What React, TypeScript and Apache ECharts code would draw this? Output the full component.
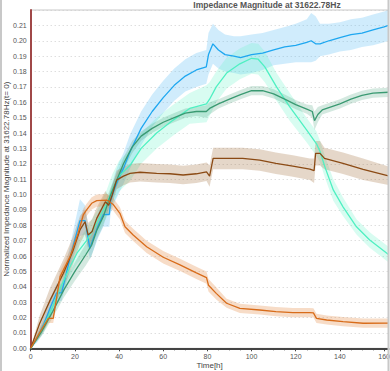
import React, { useEffect, useRef } from "react";
import * as echarts from "echarts";

const chartTitle = "Impedance Magnitude at 31622.78Hz";
const yName = "Normalized Impedance Magnitude at 31622.78Hz(t= 0)";
const xName = "Time[h]";

// Blue
const blueT = [0, 3, 6, 9, 11.7, 14, 18, 22.3, 24.6, 26.8, 28.5, 30.6, 32.9, 35.6, 36.2, 38, 40, 42, 45, 50, 55, 60, 65, 70, 75, 79.5, 80.5, 82.5, 85, 88, 92, 95, 100, 105, 110, 115, 120, 125, 127, 129, 131, 135, 140, 145, 150, 155, 160, 162];
const blueMean = [0, 0.007, 0.016, 0.027, 0.036, 0.036, 0.06, 0.083, 0.083, 0.065, 0.072, 0.08, 0.087, 0.087, 0.096, 0.104, 0.111, 0.117, 0.128, 0.143, 0.154, 0.163, 0.171, 0.177, 0.181, 0.183, 0.191, 0.198, 0.194, 0.191, 0.19, 0.189, 0.191, 0.192, 0.194, 0.196, 0.197, 0.199, 0.2, 0.198, 0.198, 0.2, 0.202, 0.204, 0.205, 0.207, 0.209, 0.21];
const blueLow = [0, 0.004, 0.011, 0.021, 0.03, 0.031, 0.053, 0.073, 0.074, 0.058, 0.064, 0.072, 0.079, 0.079, 0.088, 0.095, 0.101, 0.107, 0.117, 0.132, 0.144, 0.153, 0.161, 0.167, 0.17, 0.172, 0.178, 0.185, 0.182, 0.18, 0.179, 0.178, 0.179, 0.181, 0.184, 0.185, 0.186, 0.186, 0.186, 0.187, 0.19, 0.191, 0.193, 0.194, 0.196, 0.197, 0.199, 0.2];
const blueHigh = [0, 0.01, 0.021, 0.033, 0.042, 0.042, 0.068, 0.097, 0.093, 0.073, 0.08, 0.088, 0.095, 0.095, 0.104, 0.113, 0.121, 0.127, 0.139, 0.154, 0.165, 0.174, 0.182, 0.188, 0.192, 0.194, 0.205, 0.211, 0.207, 0.204, 0.203, 0.203, 0.204, 0.205, 0.207, 0.209, 0.211, 0.214, 0.218, 0.216, 0.211, 0.211, 0.212, 0.214, 0.215, 0.217, 0.219, 0.22];

// Dark green
const greenT = [0, 5, 10, 15, 20, 25, 27.6, 30, 33, 36, 40, 42, 46, 50, 55, 60, 65, 70, 75, 79.5, 81, 85, 90, 95, 100, 105, 110, 115, 120, 125, 127.5, 128.5, 130, 132, 135, 140, 145, 150, 155, 162];
const greenMean = [0, 0.011, 0.024, 0.038, 0.05, 0.061, 0.067, 0.077, 0.086, 0.099, 0.113, 0.12, 0.131, 0.138, 0.143, 0.147, 0.15, 0.153, 0.154, 0.154, 0.156, 0.159, 0.162, 0.165, 0.1675, 0.1675, 0.1655, 0.162, 0.1585, 0.1555, 0.154, 0.148, 0.152, 0.155, 0.1565, 0.159, 0.162, 0.1645, 0.166, 0.1665];
const greenSpread = [0, 0.003, 0.004, 0.005, 0.006, 0.007, 0.007, 0.006, 0.006, 0.005, 0.004, 0.004, 0.004, 0.003, 0.003, 0.003, 0.003, 0.003, 0.003, 0.004, 0.004, 0.003, 0.003, 0.003, 0.003, 0.003, 0.003, 0.003, 0.003, 0.003, 0.004, 0.006, 0.005, 0.003, 0.003, 0.003, 0.003, 0.003, 0.003, 0.003];

// Mint
const mintT = [0, 5, 8.7, 13, 17.8, 21, 25.3, 29.9, 34.4, 36.9, 40, 45, 50, 57, 64.5, 72, 79.6, 81, 84, 88.7, 94.7, 100, 103, 106, 111.3, 117.3, 124.9, 129.4, 131, 133.2, 137, 141.4, 147.5, 153.5, 162];
const mintMean = [0, 0.012, 0.0228, 0.038, 0.053, 0.062, 0.07, 0.0813, 0.094, 0.103, 0.112, 0.119, 0.13, 0.14, 0.1484, 0.156, 0.159, 0.162, 0.17, 0.179, 0.185, 0.1886, 0.188, 0.183, 0.17, 0.157, 0.142, 0.133, 0.128, 0.118, 0.103, 0.092, 0.079, 0.0704, 0.061];
const mintSpread = [0, 0.003, 0.004, 0.005, 0.006, 0.007, 0.008, 0.008, 0.009, 0.01, 0.01, 0.01, 0.01, 0.01, 0.01, 0.01, 0.012, 0.011, 0.01, 0.01, 0.01, 0.01, 0.01, 0.01, 0.009, 0.009, 0.008, 0.008, 0.007, 0.007, 0.007, 0.006, 0.005, 0.005, 0.005];

// Brown
const brownT = [0, 4, 8.7, 14.8, 19, 22.3, 24.6, 26, 27.8, 29.9, 33.8, 35.3, 36.9, 38.9, 42, 45, 49.5, 57, 63, 69, 75, 79.6, 81, 82.6, 88, 96, 103.7, 111, 118.7, 126.4, 128.3, 129, 131, 133, 141.4, 150.5, 162];
const brownMean = [0, 0.016, 0.031, 0.0488, 0.063, 0.077, 0.0823, 0.0737, 0.076, 0.0845, 0.0953, 0.093, 0.0997, 0.1094, 0.112, 0.1138, 0.1145, 0.1138, 0.1135, 0.1127, 0.1135, 0.1148, 0.112, 0.1235, 0.1235, 0.1235, 0.1224, 0.1203, 0.1185, 0.1165, 0.1155, 0.1268, 0.1268, 0.1235, 0.1203, 0.1164, 0.1122];
const brownSpread = [0, 0.005, 0.008, 0.009, 0.009, 0.009, 0.008, 0.008, 0.008, 0.007, 0.007, 0.006, 0.006, 0.006, 0.006, 0.006, 0.006, 0.006, 0.006, 0.006, 0.006, 0.006, 0.007, 0.007, 0.007, 0.007, 0.007, 0.007, 0.007, 0.007, 0.008, 0.008, 0.008, 0.007, 0.007, 0.007, 0.006];

// Orange
const orangeT = [0, 4, 8, 10.2, 13.3, 17.8, 21.5, 23.8, 25.3, 27.6, 29.9, 34.4, 37.4, 40.4, 42.7, 46.4, 52.5, 60, 67.6, 75, 79.6, 80.5, 84, 88.7, 94.7, 103.7, 111, 118.7, 126.4, 128, 129.4, 134, 141.4, 150.5, 162];
const orangeMean = [0, 0.01, 0.0195, 0.0195, 0.0466, 0.0596, 0.0748, 0.0867, 0.09, 0.0943, 0.096, 0.0964, 0.0935, 0.0878, 0.079, 0.0737, 0.066, 0.0592, 0.0542, 0.049, 0.046, 0.041, 0.0357, 0.0293, 0.026, 0.0249, 0.0238, 0.0232, 0.0232, 0.023, 0.0195, 0.0184, 0.0173, 0.0163, 0.0164];
const orangeSpread = [0, 0.003, 0.003, 0.003, 0.004, 0.004, 0.004, 0.004, 0.004, 0.004, 0.004, 0.004, 0.004, 0.004, 0.004, 0.004, 0.004, 0.004, 0.004, 0.004, 0.004, 0.004, 0.004, 0.003, 0.003, 0.003, 0.003, 0.003, 0.003, 0.003, 0.003, 0.003, 0.003, 0.003, 0.003];

const FONT = '"Liberation Sans", Arial, sans-serif';

function band(t: number[], lo: number[], hi: number[], color: string): any {
  return {
    type: "custom",
    silent: true,
    clip: true,
    z: 1,
    data: t.map((x, i) => [x, lo[i], hi[i]]),
    encode: { x: 0, y: [1, 2] },
    renderItem: (params: any, api: any) => {
      if (params.dataIndexInside !== 0) return { type: "group", children: [] };
      const n = params.dataInsideLength;
      const top: number[][] = [];
      const bot: number[][] = [];
      for (let i = 0; i < n; i++) {
        const x = api.value(0, i);
        top.push(api.coord([x, api.value(2, i)]));
        bot.push(api.coord([x, api.value(1, i)]));
      }
      return {
        type: "polygon",
        shape: { points: top.concat(bot.reverse()) },
        style: { fill: color },
      };
    },
  };
}

function line(t: number[], v: number[], color: string): any {
  return {
    type: "line",
    data: t.map((x, i) => [x, v[i]]),
    showSymbol: false,
    symbol: "none",
    z: 3,
    lineStyle: { color, width: 1.3 },
    itemStyle: { color },
  };
}

export default function App() {
  const ref = useRef<HTMLDivElement>(null);
  useEffect(() => {
    document.body.style.margin = "0";
    const chart = echarts.init(ref.current!, null, { renderer: "svg" });
    const lowOf = (m: number[], s: number[]) => m.map((v, i) => v - s[i]);
    const highOf = (m: number[], s: number[]) => m.map((v, i) => v + s[i]);
    chart.setOption({
      animation: false,
      grid: {
        left: 30.7,
        right: 1.5,
        top: 10,
        bottom: 22.7,
        containLabel: false,
        outerBoundsMode: "none",
        show: true,
        borderColor: "#c8c8c8",
        borderWidth: 1,
      },
      graphic: [
        {
          type: "text",
          x: 267,
          y: 5,
          style: {
            text: chartTitle,
            align: "center",
            verticalAlign: "middle",
            fontSize: 8.5,
            fontWeight: "bold",
            fontFamily: FONT,
            fill: "#555",
          },
        },
        {
          type: "rect",
          z: 100,
          shape: { x: 1, y: -5, width: 387.5, height: 390 },
          style: { fill: "none", stroke: "#c8c8c8", lineWidth: 2 },
          silent: true,
        },
      ],
      xAxis: {
        type: "value",
        min: 0,
        max: 162,
        interval: 20,
        name: xName,
        nameLocation: "middle",
        nameGap: 13.5,
        nameMoveOverlap: false,
        nameTextStyle: { fontSize: 8, color: "#444", fontFamily: FONT },
        axisLine: { show: true, lineStyle: { color: "#444", width: 2 } },
        axisTick: { show: true, length: 3, lineStyle: { color: "#444" } },
        minorTick: { show: true, splitNumber: 4, length: 2, lineStyle: { color: "#444" } },
        splitLine: { show: false },
        axisLabel: {
          showMaxLabel: false,
          fontSize: 7,
          color: "#555",
          fontFamily: FONT,
          margin: 5,
        },
      },
      yAxis: {
        type: "value",
        min: 0,
        max: 0.22,
        interval: 0.01,
        name: yName,
        nameLocation: "middle",
        nameRotate: 90,
        nameGap: 20,
        nameMoveOverlap: false,
        nameTextStyle: { fontSize: 8, color: "#444", fontFamily: FONT },
        axisLine: { show: true, onZero: false, lineStyle: { color: "#a04848", width: 2 } },
        axisTick: { show: false },
        splitLine: { show: true, lineStyle: { color: "#cfcfcf", type: [1, 3], width: 1 } },
        axisLabel: {
          showMaxLabel: false,
          fontSize: 7,
          color: "#555",
          fontFamily: FONT,
          margin: 4,
          formatter: (v: number) => v.toFixed(2),
        },
      },
      series: [
        band(blueT, blueLow, blueHigh, "rgba(110,195,245,0.32)"),
        band(mintT, lowOf(mintMean, mintSpread), highOf(mintMean, mintSpread), "rgba(100,245,200,0.25)"),
        band(greenT, lowOf(greenMean, greenSpread), highOf(greenMean, greenSpread), "rgba(58,154,114,0.22)"),
        band(brownT, lowOf(brownMean, brownSpread), highOf(brownMean, brownSpread), "rgba(160,110,60,0.28)"),
        band(orangeT, lowOf(orangeMean, orangeSpread), highOf(orangeMean, orangeSpread), "rgba(230,140,70,0.3)"),
        line(blueT, blueMean, "#1ea7f0"),
        line(mintT, mintMean, "#4ff0c2"),
        line(greenT, greenMean, "#3a9a72"),
        line(brownT, brownMean, "#8b4a14"),
        line(orangeT, orangeMean, "#d86c1a"),
      ],
    });
    return () => chart.dispose();
  }, []);
  return <div ref={ref} style={{ width: 390, height: 371, position: "absolute", left: 0, top: 0 }} />;
}
